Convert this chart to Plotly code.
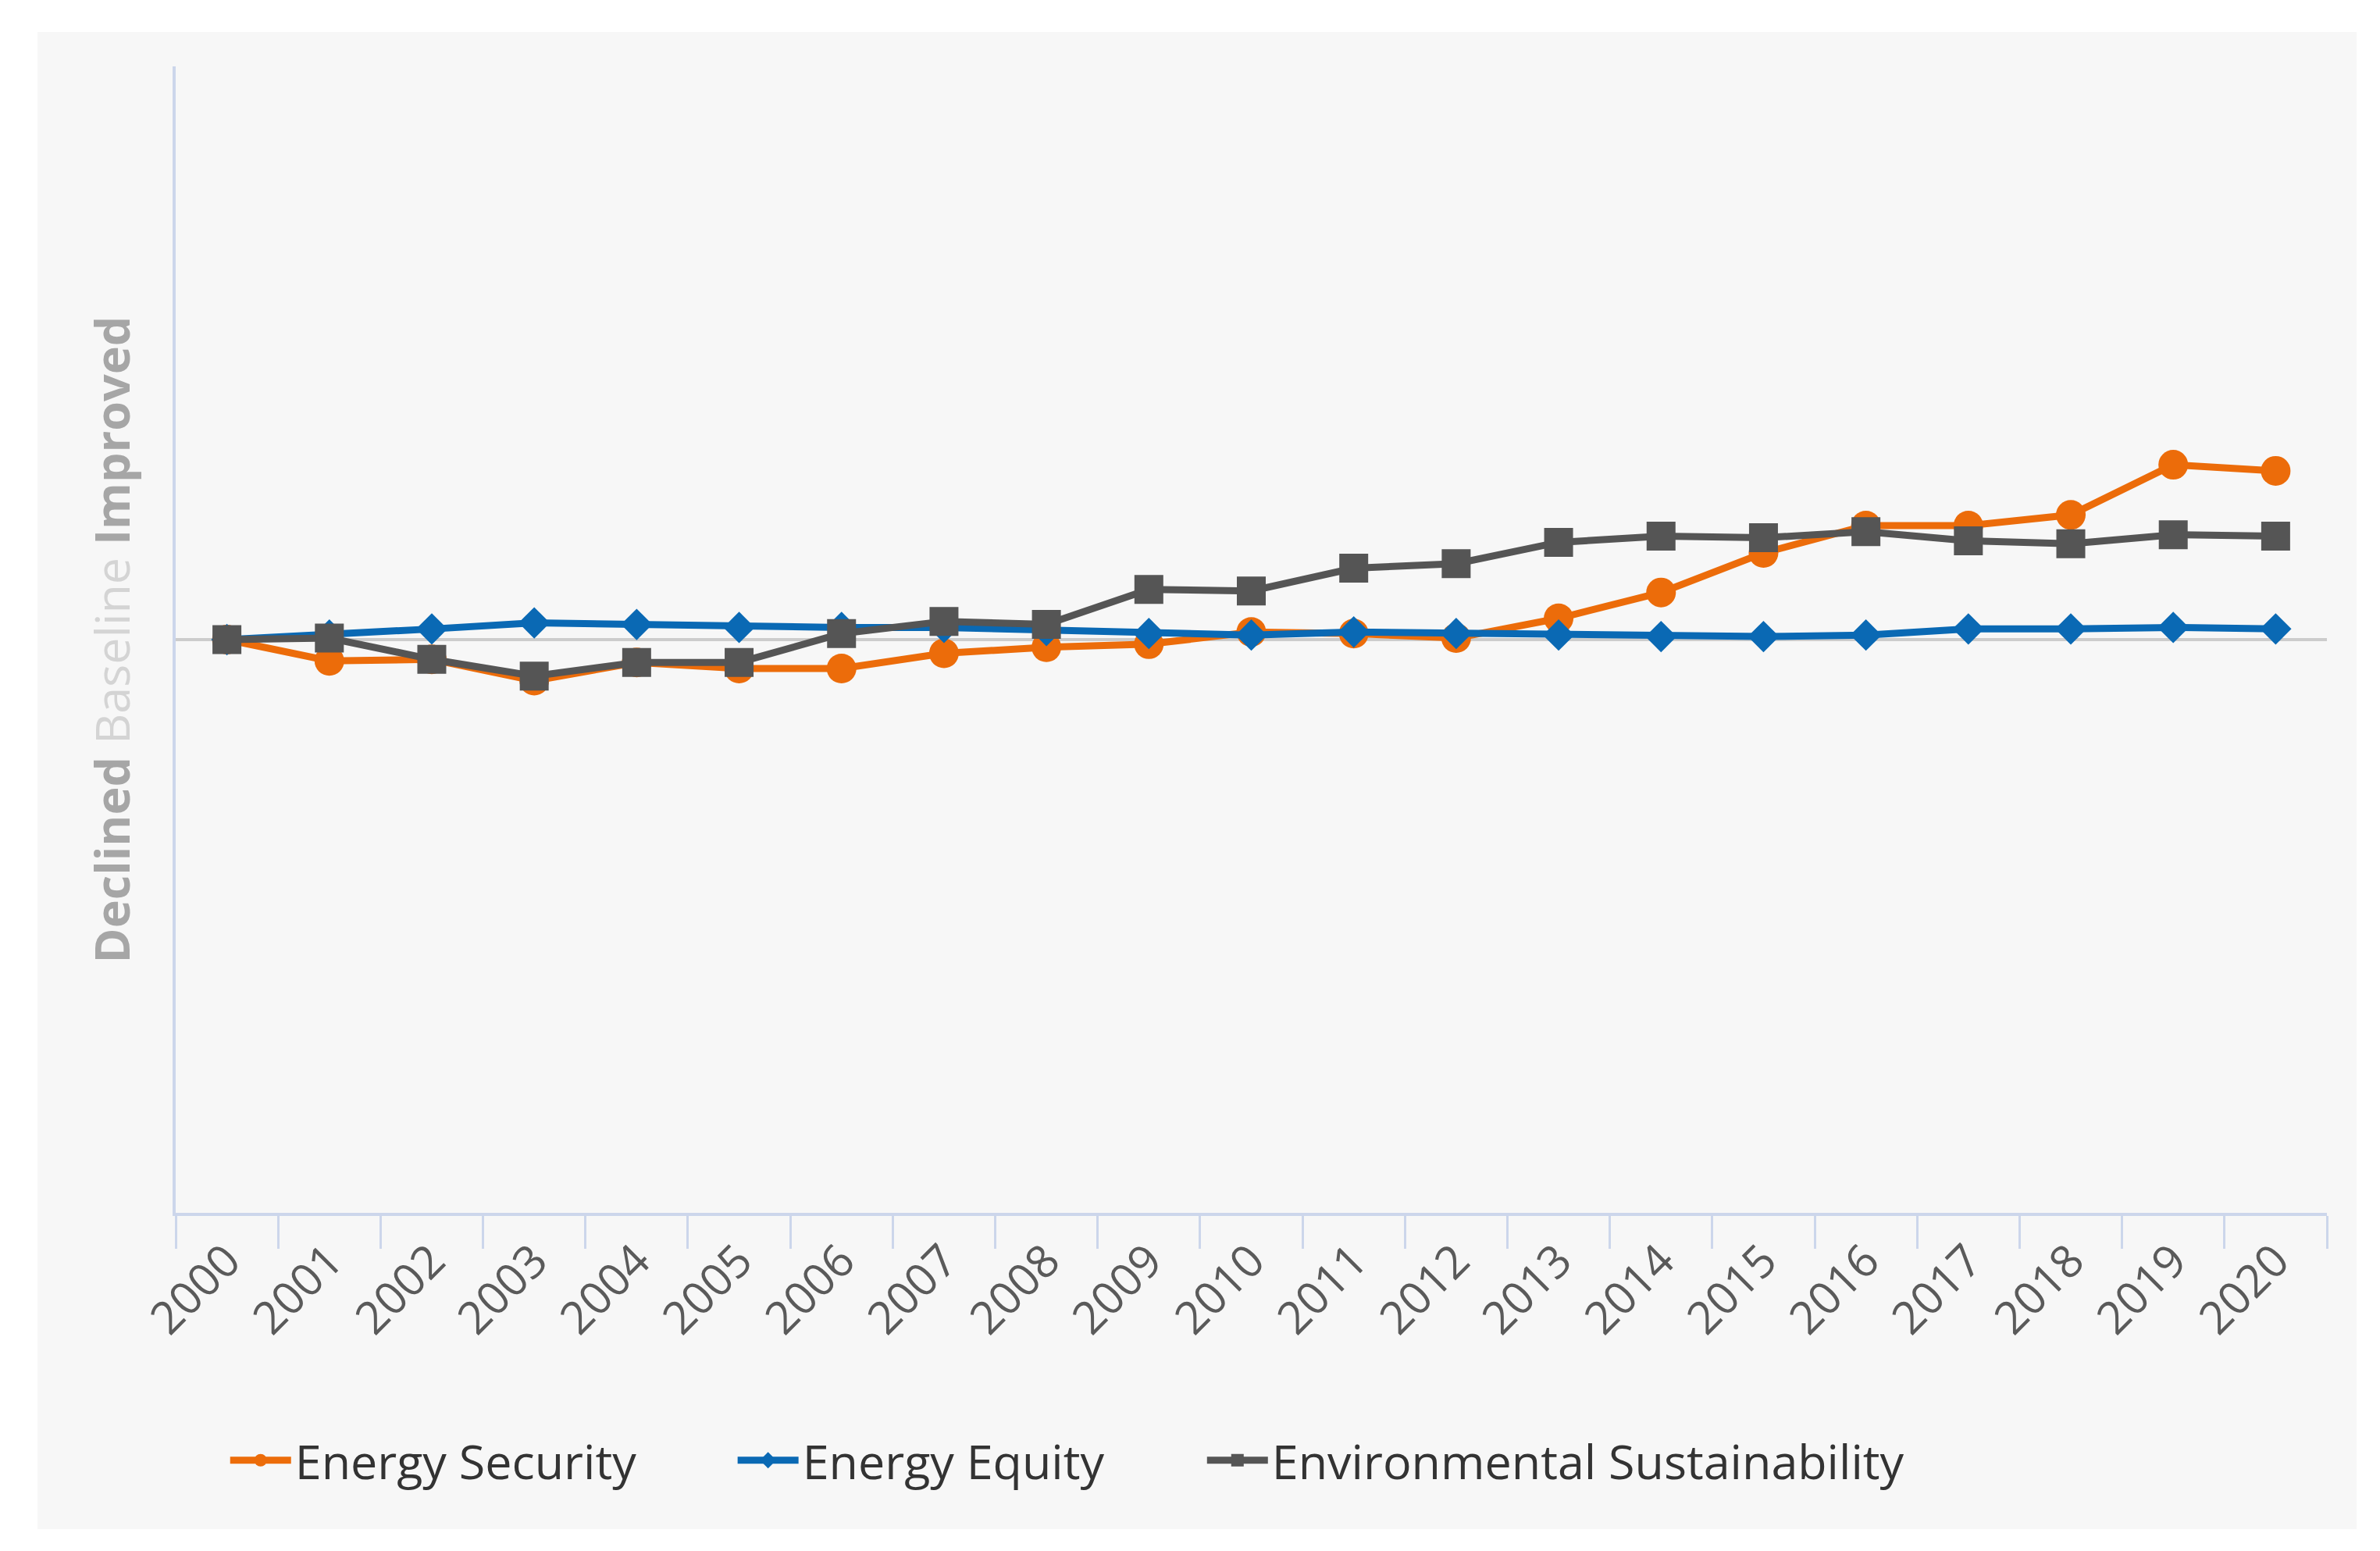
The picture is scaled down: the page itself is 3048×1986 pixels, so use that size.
import plotly.graph_objects as go

years = [str(y) for y in range(2000, 2021)]
energy_security = [0, -14, -13, -27, -15, -19, -19, -9, -5, -3, 5, 4, 1, 14, 31, 57, 75, 75, 82, 115, 111]
energy_equity = [0, 3, 7, 11, 10, 8, 8, 8, 6, 4, 3, 5, 4, 3, 2, 2, 3, 7, 7, 8, 7]
env_sustain = [0, 1, -13, -24, -15, -15, 4, 12, 10, 33, 32, 47, 50, 64, 68, 67, 71, 65, 63, 69, 68]

series_names = ["Energy Security", "Energy Equity", "Environmental Sustainability"]
colors = ["#ec6c0a", "#0a69b4", "#555555"]
symbols = ["circle", "diamond", "square"]
sizes = [38, 31, 37]
legend_ids = ["legend", "legend2", "legend3"]

fig = go.Figure()
for name, vals, c, s, sz, lg in zip(series_names, [energy_security, energy_equity, env_sustain],
                                    colors, symbols, sizes, legend_ids):
    fig.add_trace(go.Scatter(
        x=years, y=vals, name=name, mode="lines+markers",
        line=dict(color=c, width=9),
        marker=dict(color=c, symbol=s, size=sz, line=dict(width=0)),
        legend=lg,
    ))

W, H = 3048, 1986
ml, mr, mt, mb = 217, 76, 77, 441
pw = W - ml - mr
ph = H - mt - mb

# gray card background behind the whole chart (white border around it)
fig.add_shape(type="rect", xref="paper", yref="paper", layer="below",
              x0=(40 - ml) / pw, x1=(3010 - ml) / pw,
              y0=(H - mb - 1950) / ph, y1=(H - mb - 33) / ph,
              fillcolor="#f7f7f7", line=dict(width=0))

legend_style = dict(
    orientation="h", xanchor="left", y=-0.216, yanchor="middle",
    font=dict(size=61, color="#333333", family="Open Sans"),
    bgcolor="rgba(0,0,0,0)", itemwidth=78,
)
legend_x = [0.0235, 0.2594, 0.4776]

fig.update_layout(
    width=W, height=H,
    margin=dict(l=ml, r=mr, t=mt, b=mb),
    paper_bgcolor="white",
    plot_bgcolor="rgba(0,0,0,0)",
    font=dict(family="Open Sans", color="#555555"),
    showlegend=True,
    legend=dict(x=legend_x[0], **legend_style),
    legend2=dict(x=legend_x[1], **legend_style),
    legend3=dict(x=legend_x[2], **legend_style),
)
fig.update_xaxes(
    type="category", range=[-0.5, 20.5],
    showline=True, linecolor="#ccd6eb", linewidth=4,
    ticks="outside", tickson="boundaries", ticklen=42, tickwidth=3, tickcolor="#ccd6eb",
    tickangle=-45, tickfont=dict(size=58, color="#5a5a5a", family="Open Sans"),
    showgrid=False, zeroline=False,
)
fig.update_yaxes(
    range=[-377, 377],
    showline=True, linecolor="#ccd6eb", linewidth=4,
    showticklabels=False, ticks="", showgrid=False,
    zeroline=True, zerolinecolor="#cccccc", zerolinewidth=4,
    title=dict(
        text="<b>Declined</b> <span style='color:#d4d4d4'>Baseline</span> <b>Improved</b>",
        font=dict(size=61, color="#a6a6a6", family="Open Sans"),
        standoff=36,
    ),
)

fig.write_html("out.html")
